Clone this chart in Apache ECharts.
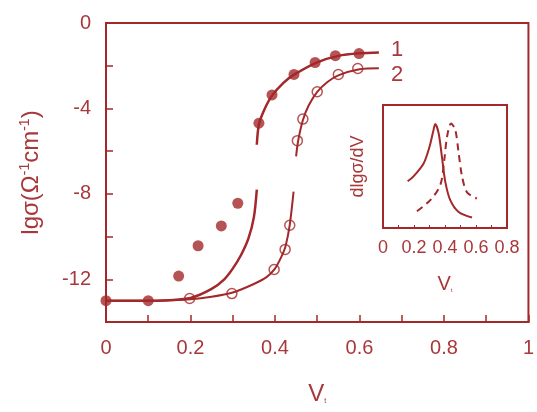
<!DOCTYPE html>
<html>
<head>
<meta charset="utf-8">
<script src="https://cdn.jsdelivr.net/npm/echarts@6/dist/echarts.min.js"></script>
<style>
  html, body { margin: 0; padding: 0; background: #fff; }
  #chart { width: 537px; height: 412px; }
</style>
</head>
<body>
<div id="chart"></div>
<script>
"use strict";
// measured points, sample 1 (filled) and sample 2 (open)
var points1 = [[0, -13], [0.1, -13], [0.172, -11.85], [0.218, -10.43], [0.273, -9.5], [0.312, -8.44],
    [0.362, -4.69], [0.393, -3.37], [0.445, -2.41], [0.495, -1.85], [0.543, -1.53], [0.599, -1.43]];
var points2 = [[0.198, -12.9], [0.298, -12.67], [0.398, -11.54], [0.424, -10.6], [0.435, -9.47],
    [0.453, -5.51], [0.466, -4.5], [0.5, -3.22], [0.55, -2.41], [0.596, -2.13]];

// fitted curves
var curve1Low = [[0, -13], [0.1, -13], [0.15, -12.98], [0.2, -12.88], [0.25, -12.45], [0.28, -12.0],
    [0.3, -11.5], [0.32, -10.85], [0.337, -10.1], [0.35, -9.1], [0.357, -7.8]];
var curve1High = [[0.357, -5.7], [0.362, -4.75], [0.375, -4.05], [0.393, -3.4], [0.42, -2.8],
    [0.445, -2.42], [0.5, -1.84], [0.55, -1.54], [0.6, -1.42], [0.646, -1.38]];
var curve2Low = [[0, -13], [0.1, -13], [0.2, -12.93], [0.25, -12.82], [0.3, -12.62], [0.35, -12.22],
    [0.38, -11.9], [0.4, -11.5], [0.415, -10.95], [0.425, -10.45], [0.435, -9.45], [0.444, -7.9]];
var curve2High = [[0.45, -6.24], [0.455, -5.5], [0.466, -4.55], [0.48, -3.85], [0.5, -3.22],
    [0.525, -2.75], [0.55, -2.45], [0.6, -2.17], [0.646, -2.12]];

// inset: derivative peaks
var insetSolid = [[0.159, 0.38], [0.197, 0.42], [0.262, 0.525], [0.3, 0.66], [0.323, 0.78], [0.337, 0.845],
    [0.359, 0.77], [0.38, 0.58], [0.402, 0.375], [0.434, 0.226], [0.488, 0.13], [0.574, 0.085]];
var insetDashed = [[0.219, 0.136], [0.305, 0.226], [0.37, 0.35], [0.395, 0.55], [0.413, 0.74], [0.439, 0.85],
    [0.466, 0.8], [0.488, 0.61], [0.51, 0.42], [0.542, 0.29], [0.606, 0.24]];

var curveLabels = ["1", "2"];

var red = "#a3282a";
var textRed = "#a8383a";
var font = "Liberation Sans, Arial, sans-serif";

var chart = echarts.init(document.getElementById("chart"), null, {renderer: "canvas"});

function evenLabel(v) {
    var k = Math.round(v * 10);
    return k % 2 === 0 ? String(Math.round(v * 10) / 10) : "";
}

var options = {
    animation: false,
    backgroundColor: "#fff",
    textStyle: {fontFamily: font},
    grid: [
        {left: 106, right: 4, top: 23, bottom: 90, show: true, borderColor: red, borderWidth: 2},
        {left: 383, top: 105, width: 124, height: 123, show: true, borderColor: red, borderWidth: 2}
    ],
    xAxis: [{
        type: "value", gridIndex: 0, min: 0, max: 1, interval: 0.1, position: "bottom",
        axisLine: {onZero: false, lineStyle: {color: red, width: 2}},
        axisTick: {inside: true, length: 7, lineStyle: {color: red, width: 1.5}},
        splitLine: {show: false},
        axisLabel: {color: textRed, fontSize: 20, margin: 16, fontFamily: font, formatter: evenLabel},
        name: "{v|V}{s|t}", nameLocation: "middle", nameGap: 60,
        nameTextStyle: {rich: {
            v: {fontSize: 24, color: textRed, fontFamily: font},
            s: {fontSize: 7, color: textRed, fontFamily: font, padding: [14, 0, 0, 0]}
        }}
    }, {
        type: "value", gridIndex: 1, min: 0, max: 0.8, interval: 0.1, position: "bottom",
        axisLine: {onZero: false, lineStyle: {color: red, width: 2}},
        axisTick: {inside: true, length: 3, lineStyle: {color: red, width: 1}},
        splitLine: {show: false},
        axisLabel: {color: textRed, fontSize: 18, margin: 11, fontFamily: font, formatter: evenLabel},
        name: "{v|V}{s|t}", nameLocation: "middle", nameGap: 46,
        nameTextStyle: {rich: {
            v: {fontSize: 20, color: textRed, fontFamily: font},
            s: {fontSize: 6, color: textRed, fontFamily: font, padding: [12, 0, 0, 0]}
        }}
    }],
    yAxis: [{
        type: "value", gridIndex: 0, min: -14, max: 0, interval: 2, position: "left",
        axisLine: {onZero: false, lineStyle: {color: red, width: 2}},
        axisTick: {inside: true, length: 7, lineStyle: {color: red, width: 1.5}},
        splitLine: {show: false},
        axisLabel: {
            color: textRed, fontSize: 20, margin: 15, fontFamily: font,
            formatter: function (v) { return v % 4 === 0 && v > -14 ? String(v) : ""; }
        },
        name: "{a|lgσ(Ω}{s|-1}{a|cm}{s|-1}{a|)}", nameLocation: "middle", nameGap: 62, nameRotate: 90,
        nameTextStyle: {rich: {
            a: {fontSize: 24, color: textRed, fontFamily: font},
            s: {fontSize: 14, color: textRed, fontFamily: font, padding: [0, 0, 12, 0]}
        }}
    }, {
        type: "value", gridIndex: 1, min: 0, max: 1,
        axisLine: {show: false},
        axisTick: {show: false},
        splitLine: {show: false},
        axisLabel: {show: false},
        name: "dlgσ/dV", nameLocation: "middle", nameGap: 16, nameRotate: 90,
        nameTextStyle: {color: textRed, fontSize: 18, fontFamily: font}
    }],
    series: [{
        name: "curve1Low", type: "line", xAxisIndex: 0, yAxisIndex: 0, data: curve1Low,
        smooth: 0.3, showSymbol: false, lineStyle: {color: red, width: 2.5}
    }, {
        name: "curve1High", type: "line", xAxisIndex: 0, yAxisIndex: 0, data: curve1High,
        smooth: 0.3, showSymbol: false, lineStyle: {color: red, width: 2.5},
        endLabel: {show: true, formatter: curveLabels[0], color: textRed, fontSize: 22, fontFamily: font,
            distance: 12, offset: [0, -3]}
    }, {
        name: "curve2Low", type: "line", xAxisIndex: 0, yAxisIndex: 0, data: curve2Low,
        smooth: 0.3, showSymbol: false, lineStyle: {color: red, width: 2}
    }, {
        name: "curve2High", type: "line", xAxisIndex: 0, yAxisIndex: 0, data: curve2High,
        smooth: 0.3, showSymbol: false, lineStyle: {color: red, width: 2},
        endLabel: {show: true, formatter: curveLabels[1], color: textRed, fontSize: 22, fontFamily: font,
            distance: 12, offset: [0, 7]}
    }, {
        name: "sample1", type: "scatter", xAxisIndex: 0, yAxisIndex: 0, data: points1,
        symbol: "circle", symbolSize: 11, itemStyle: {color: red}, z: 5
    }, {
        name: "sample2", type: "scatter", xAxisIndex: 0, yAxisIndex: 0, data: points2,
        symbol: "circle", symbolSize: 10, itemStyle: {color: "rgba(255,255,255,0)", borderColor: red, borderWidth: 1.5}, z: 5
    }, {
        name: "insetSolid", type: "line", xAxisIndex: 1, yAxisIndex: 1, data: insetSolid,
        smooth: 0.3, showSymbol: false, lineStyle: {color: red, width: 2}
    }, {
        name: "insetDashed", type: "line", xAxisIndex: 1, yAxisIndex: 1, data: insetDashed,
        smooth: 0.3, showSymbol: false, lineStyle: {color: red, width: 2, type: [7, 5]}
    }]
};

chart.setOption(options);
</script>
</body>
</html>
